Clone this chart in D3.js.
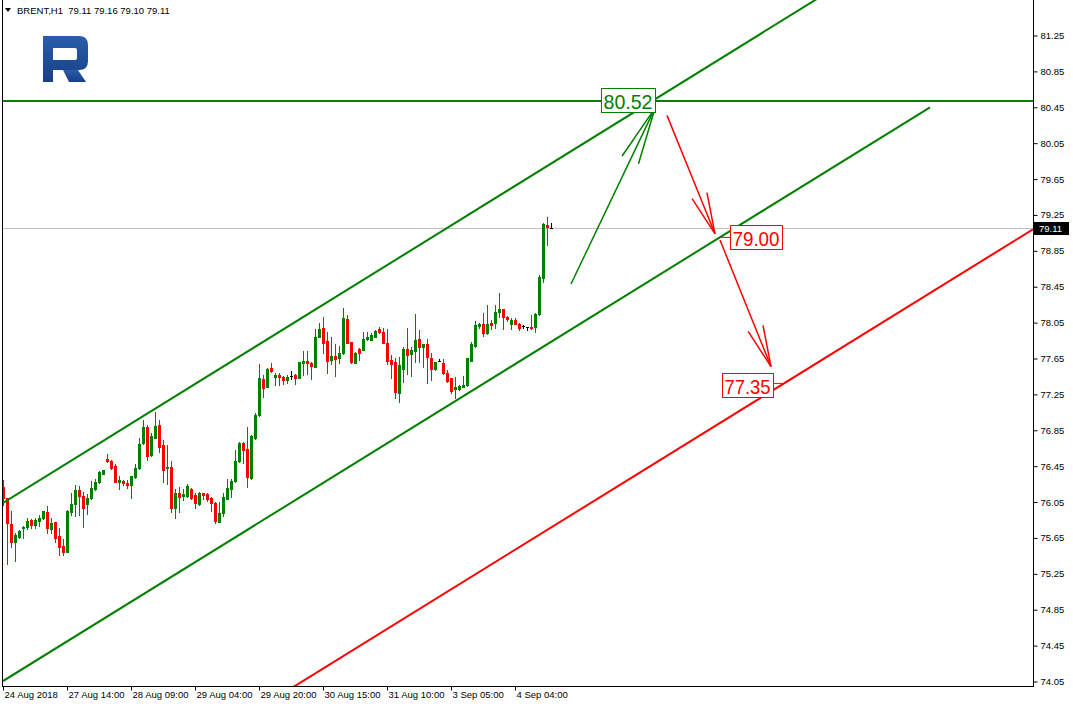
<!DOCTYPE html>
<html><head><meta charset="utf-8">
<script src="https://cdn.jsdelivr.net/npm/d3@7"></script>
<style>
body{margin:0;background:#fff}
svg{display:block}
text{font-family:"Liberation Sans",Arial,sans-serif}
</style>
</head><body>
<svg id="chart" width="1073" height="707"></svg>
<script>
// ---------------- DATA ----------------
const symbolTitle = "BRENT,H1";
const headerValues = ["79.11", "79.16", "79.10", "79.11"];

const timeLabels = ["24 Aug 2018", "27 Aug 14:00", "28 Aug 09:00", "29 Aug 04:00", "29 Aug 20:00",
  "30 Aug 15:00", "31 Aug 10:00", "3 Sep 05:00", "4 Sep 04:00"];
const timeLabelBars = [1, 17, 33, 49, 65, 81, 97, 113, 129];

const priceTicks = [74.05, 74.45, 74.85, 75.25, 75.65, 76.05, 76.45, 76.85, 77.25, 77.65,
  78.05, 78.45, 78.85, 79.25, 79.65, 80.05, 80.45, 80.85, 81.25];

const opens = [76.22,76.10,75.81,75.61,75.66,75.76,75.77,75.85,75.79,75.84,75.87,75.94,75.75,75.83,75.67,75.56,75.49,75.94,76.03,76.18,
  76.12,76.03,76.10,76.19,76.27,76.36,76.53,76.51,76.45,76.27,76.28,76.26,76.24,76.33,76.43,76.71,76.89,76.57,76.76,76.91,
  76.69,76.43,76.44,75.98,76.15,76.12,76.12,76.20,76.13,76.03,76.15,76.14,76.10,76.04,75.83,75.93,76.08,76.20,76.29,76.51,
  76.71,76.64,76.32,76.76,77.02,77.42,77.33,77.54,77.44,77.47,77.44,77.41,77.45,77.47,77.43,77.60,77.62,77.60,77.56,77.89,
  77.99,77.84,77.63,77.68,77.66,77.71,78.09,77.83,77.60,77.76,77.74,77.87,77.86,77.89,77.98,77.95,77.82,77.63,77.61,77.27,
  77.53,77.76,77.70,77.73,77.87,77.78,77.81,77.66,77.53,77.62,77.60,77.49,77.43,77.31,77.31,77.33,77.35,77.62,77.79,78.01,
  78.04,77.93,78.05,78.05,78.17,78.20,78.11,78.03,78.08,78.04,78.01,78.00,78.00,78.00,78.15,78.55,79.14,79.11];
const highs = [76.30,76.10,75.95,75.71,75.74,75.78,75.87,75.86,75.87,75.91,75.95,76.01,75.87,75.83,75.76,75.64,75.96,76.15,76.24,76.23,
  76.16,76.14,76.29,76.31,76.40,76.41,76.59,76.52,76.47,76.34,76.30,76.30,76.34,76.47,76.76,76.96,76.91,76.82,77.05,76.97,
  76.74,76.69,76.51,76.19,76.22,76.19,76.25,76.21,76.15,76.16,76.15,76.15,76.11,76.05,76.05,76.15,76.31,76.31,76.63,76.72,
  76.72,76.89,76.80,77.04,77.59,77.47,77.54,77.60,77.49,77.49,77.46,77.47,77.51,77.48,77.61,77.73,77.73,77.61,77.98,78.05,
  78.11,77.95,77.89,77.81,77.79,78.21,78.14,77.83,77.72,77.77,77.95,77.95,77.93,77.97,78.00,77.99,77.98,77.69,77.66,77.67,
  77.78,77.99,77.78,78.15,77.97,77.81,77.87,77.71,77.61,77.64,77.64,77.52,77.43,77.44,77.35,77.45,77.66,77.83,78.07,78.05,
  78.16,78.25,78.08,78.25,78.38,78.20,78.12,78.10,78.10,78.05,78.02,78.00,78.14,78.16,78.58,79.16,79.23,79.16];
const lows = [76.02,75.36,75.55,75.39,75.65,75.65,75.75,75.76,75.76,75.78,75.86,75.71,75.71,75.61,75.46,75.46,75.49,75.91,75.89,75.91,
  75.77,75.92,76.08,76.18,76.26,76.36,76.50,76.42,76.27,76.20,76.24,76.21,76.10,76.32,76.42,76.70,76.52,76.56,76.76,76.61,
  76.27,76.25,75.94,75.87,75.94,76.07,76.11,76.08,75.98,76.02,76.08,76.06,75.95,75.82,75.83,75.89,76.08,76.11,76.27,76.50,
  76.49,76.22,76.31,76.75,77.01,77.22,77.33,77.50,77.36,77.36,77.37,77.38,77.42,77.37,77.43,77.47,77.48,77.42,77.56,77.89,
  77.71,77.49,77.59,77.45,77.60,77.70,77.82,77.60,77.60,77.63,77.74,77.86,77.86,77.89,77.93,77.82,77.59,77.43,77.21,77.16,
  77.39,77.48,77.46,77.61,77.61,77.55,77.38,77.41,77.52,77.62,77.48,77.39,77.26,77.21,77.30,77.33,77.34,77.62,77.78,77.99,
  77.90,77.92,77.98,77.99,78.11,77.98,78.07,77.98,78.03,77.97,77.99,77.97,77.98,77.94,78.14,78.50,78.92,79.10];
const closes = [76.10,75.82,75.61,75.68,75.73,75.77,75.84,75.79,75.85,75.87,75.95,75.76,75.82,75.65,75.55,75.49,75.95,76.03,76.18,76.12,
  75.98,76.10,76.21,76.27,76.39,76.41,76.51,76.43,76.27,76.30,76.26,76.24,76.34,76.43,76.70,76.89,76.56,76.79,76.90,76.66,
  76.41,76.44,75.98,76.15,76.11,76.14,76.23,76.10,76.04,76.15,76.13,76.08,76.04,75.84,75.93,76.11,76.21,76.29,76.51,76.71,
  76.63,76.33,76.79,77.02,77.43,77.32,77.53,77.51,77.47,77.44,77.41,77.44,77.45,77.43,77.61,77.62,77.60,77.57,77.89,77.98,
  77.82,77.62,77.68,77.64,77.71,78.10,77.82,77.61,77.71,77.71,77.87,77.89,77.91,77.96,77.95,77.82,77.62,77.59,77.28,77.58,
  77.76,77.69,77.75,77.86,77.78,77.81,77.67,77.53,77.61,77.62,77.49,77.40,77.29,77.33,77.34,77.35,77.65,77.81,78.02,78.04,
  77.93,78.04,78.02,78.17,78.20,78.11,78.09,78.08,78.04,77.99,78.01,78.00,77.99,78.15,78.56,79.15,79.12,79.11];

const currentPrice = 79.11;
const resistanceLevel = 80.52;
// trend lines as [bar index, price] anchors
const upperChannel = [[1, 76.04], [210, 81.81]];
const lowerChannel = [[1, 74.055], [232.75, 80.45]];
const redSupport = [[70, 73.89], [258.5, 79.09]];
const greenArrow = [[143, 78.48], [164, 80.44]];
const redArrows = [[[167, 80.36], [179, 79.04]], [[180.25, 78.97], [193, 77.56]]];
const priceLabels = [
  {text: "80.52", bar: 150.5, price: 80.52, color: "#008000", w: 54},
  {text: "79.00", bar: 182.75, price: 79.00, color: "#ff0000", w: 52},
  {text: "77.35", bar: 180.75, price: 77.35, color: "#ff0000", w: 51}
];

// ---------------- DRAW ----------------
const GREEN = "#008000", RED = "#ff0000";
const svg = d3.select("#chart");
const W = 1073, H = 707;
const plotL = 3, plotR = 1033, plotT = 0, plotB = 687;

const x = d3.scaleLinear().domain([1, 258.5]).range([3, 1033]);
const y = d3.scaleLinear().domain([74.05, 81.25]).range([681.5, 35.5]);

svg.append("rect").attr("width", W).attr("height", H).attr("fill", "#fff");

svg.append("defs").append("clipPath").attr("id", "plotClip")
  .append("rect").attr("x", plotL).attr("y", plotT).attr("width", plotR - plotL).attr("height", plotB - plotT);

const plot = svg.append("g").attr("clip-path", "url(#plotClip)");

// current price grey line
plot.append("line")
  .attr("x1", plotL).attr("x2", plotR)
  .attr("y1", Math.round(y(currentPrice)) + 0.5).attr("y2", Math.round(y(currentPrice)) + 0.5)
  .attr("stroke", "#c0c0c0").attr("stroke-width", 1);

// resistance horizontal
plot.append("line")
  .attr("x1", plotL).attr("x2", plotR)
  .attr("y1", y(resistanceLevel)).attr("y2", y(resistanceLevel))
  .attr("stroke", GREEN).attr("stroke-width", 2);

// candles
const candles = opens.map((o, i) => ({n: i + 1, o, h: highs[i], l: lows[i], c: closes[i]}));
const cg = plot.append("g");
candles.forEach(d => {
  const col = d.c > d.o ? GREEN : (d.c < d.o ? RED : "#000");
  const cx = Math.round(x(d.n)) + 0.5;
  const yh = Math.round(y(d.h)), yl = Math.round(y(d.l));
  cg.append("line").attr("x1", cx).attr("x2", cx).attr("y1", yh).attr("y2", yl + 1)
    .attr("stroke", col).attr("stroke-width", 1);
  const yt = Math.round(y(Math.max(d.o, d.c))), yb = Math.round(y(Math.min(d.o, d.c)));
  cg.append("rect").attr("x", cx - 1.5).attr("width", 3)
    .attr("y", yt).attr("height", Math.max(1, yb - yt + (yb > yt ? 1 : 0)))
    .attr("fill", col);
});

// trend lines
const lineGen = d3.line().x(d => x(d[0])).y(d => y(d[1]));
[[upperChannel, GREEN], [lowerChannel, GREEN], [redSupport, RED]].forEach(([pts, col]) => {
  plot.append("path").attr("d", lineGen(pts)).attr("fill", "none")
    .attr("stroke", col).attr("stroke-width", 2);
});

// arrows
function drawArrow(pts, col, len, angDeg) {
  const x0 = x(pts[0][0]), y0 = y(pts[0][1]), x1 = x(pts[1][0]), y1 = y(pts[1][1]);
  const g = plot.append("g").attr("stroke", col).attr("stroke-width", 1.5).attr("fill", "none");
  g.append("line").attr("x1", x0).attr("y1", y0).attr("x2", x1).attr("y2", y1);
  const base = Math.atan2(y0 - y1, x0 - x1);
  [-1, 1].forEach(s => {
    const a = base + s * angDeg * Math.PI / 180;
    g.append("line").attr("x1", x1).attr("y1", y1)
      .attr("x2", x1 + len * Math.cos(a)).attr("y2", y1 + len * Math.sin(a));
  });
}
drawArrow(greenArrow, GREEN, 58, 9);
redArrows.forEach(a => drawArrow(a, RED, 42, 11));

// price label connectors
const lowerSlope = (lowerChannel[1][1] - lowerChannel[0][1]) / (lowerChannel[1][0] - lowerChannel[0][0]);
const barAt79 = lowerChannel[0][0] + (priceLabels[1].price - lowerChannel[0][1]) / lowerSlope;
plot.append("line").attr("x1", x(barAt79)).attr("x2", x(priceLabels[1].bar))
  .attr("y1", y(priceLabels[1].price)).attr("y2", y(priceLabels[1].price))
  .attr("stroke", RED).attr("stroke-width", 1);
plot.append("line").attr("x1", x(priceLabels[2].bar) + priceLabels[2].w).attr("x2", x(priceLabels[2].bar) + priceLabels[2].w + 11)
  .attr("y1", y(priceLabels[2].price) - 2).attr("y2", y(priceLabels[2].price) - 2)
  .attr("stroke", RED).attr("stroke-width", 1);

// price labels
priceLabels.forEach(p => {
  const bx = Math.round(x(p.bar)) + 0.5, cy = y(p.price);
  const by = Math.round(cy - 12.5) + 0.5;
  plot.append("rect").attr("x", bx).attr("y", by).attr("width", p.w).attr("height", 24)
    .attr("fill", "#fff").attr("stroke", p.color).attr("stroke-width", 1);
  plot.append("text").attr("x", bx + 2).attr("y", by + 20)
    .attr("font-size", 21).attr("fill", p.color)
    .attr("textLength", p.w - 5).attr("lengthAdjust", "spacingAndGlyphs")
    .text(p.text);
});

// frame
svg.append("line").attr("x1", 2.5).attr("x2", 2.5).attr("y1", 0).attr("y2", plotB).attr("stroke", "#000");
svg.append("line").attr("x1", 2).attr("x2", plotR + 1).attr("y1", plotB - 0.5).attr("y2", plotB - 0.5).attr("stroke", "#000");

// right axis
const yAxis = d3.axisRight(y).tickValues(priceTicks).tickSize(4).tickPadding(3).tickFormat(d3.format(".2f"));
const ya = svg.append("g").attr("transform", `translate(${plotR + 0.5},0)`).call(yAxis);
ya.select(".domain").attr("d", `M0,0V${plotB}`).attr("stroke", "#000");
ya.selectAll("text").attr("font-size", 9.5).attr("font-family", "Liberation Sans, Arial, sans-serif").attr("fill", "#000");
ya.selectAll("line").attr("stroke", "#000");

// current price tag
const tagY = y(currentPrice);
svg.append("rect").attr("x", plotR + 1).attr("y", Math.round(tagY) - 6).attr("width", 35).attr("height", 13).attr("fill", "#000");
svg.append("text").attr("x", plotR + 6).attr("y", Math.round(tagY) + 4)
  .attr("font-size", 9.5).attr("fill", "#fff").text(currentPrice.toFixed(2));

// bottom axis
const xAxis = d3.axisBottom(x).tickValues(timeLabelBars).tickSize(4).tickFormat((d, i) => timeLabels[i]);
const xa = svg.append("g").attr("transform", `translate(0,${plotB - 0.5})`).call(xAxis);
xa.select(".domain").remove();
xa.selectAll("line").attr("stroke", "#000");
xa.selectAll("text").attr("text-anchor", "start").attr("dx", 0).attr("x", 1).attr("y", 5).attr("dy", "0.71em")
  .attr("font-size", 9.5).attr("font-family", "Liberation Sans, Arial, sans-serif").attr("fill", "#000");

// header
svg.append("path").attr("d", "M5,8 L11,8 L8,12 Z").attr("fill", "#000");
svg.append("text").attr("x", 17).attr("y", 14).attr("font-size", 9.5).attr("fill", "#000")
  .attr("xml:space", "preserve")
  .text(symbolTitle + "  " + headerValues.join(" "));

// logo
const defs = svg.select("defs");
const grad = defs.append("linearGradient").attr("id", "logoGrad").attr("x1", 0).attr("y1", 0).attr("x2", 0).attr("y2", 1);
grad.append("stop").attr("offset", "0%").attr("stop-color", "#2a5daa");
grad.append("stop").attr("offset", "100%").attr("stop-color", "#173f86");
const logo = svg.append("g").attr("transform", "translate(43,36)").attr("fill", "url(#logoGrad)");
logo.append("path").attr("fill-rule", "evenodd")
  .attr("d", "M0,0 H36 Q45,0 45,9 V25 Q45,34 36,34 H10 V46 H0 Z M10,12 H32 Q34,12 34,14 V22 Q34,24 32,24 H10 Z");
logo.append("path").attr("d", "M20,34 H35 L43,46 H26 Z");
</script>
</body></html>
